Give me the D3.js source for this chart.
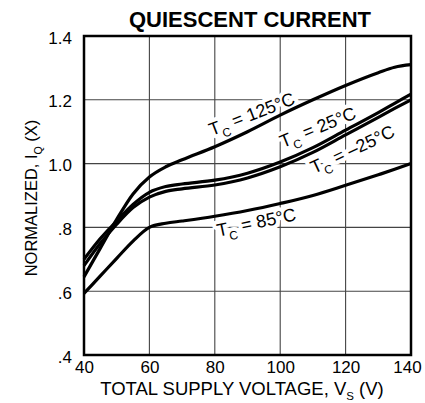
<!DOCTYPE html>
<html>
<head>
<meta charset="utf-8">
<script src="https://cdn.jsdelivr.net/npm/d3@7"></script>
<style>
  body { margin: 0; background: #fff; }
  svg { display: block; font-family: "Liberation Sans", Arial, Helvetica, sans-serif; }
</style>
</head>
<body>
<script>
// supply voltage points (V) and normalized quiescent current per case temperature
var volts = [40, 45, 50, 55, 60, 65, 70, 80, 90, 100, 110, 120, 130, 135, 140];
var i125  = [0.645, 0.735, 0.825, 0.905, 0.958, 0.99, 1.012, 1.053, 1.10, 1.152, 1.20, 1.245, 1.285, 1.302, 1.31];
var i25   = [0.70, 0.765, 0.82, 0.872, 0.91, 0.928, 0.936, 0.948, 0.97, 1.005, 1.05, 1.105, 1.16, 1.189, 1.218];
var iM25  = [0.68, 0.75, 0.81, 0.862, 0.895, 0.913, 0.921, 0.933, 0.955, 0.99, 1.035, 1.09, 1.145, 1.173, 1.20];
var i85   = [0.593, 0.648, 0.703, 0.757, 0.80, 0.813, 0.82, 0.835, 0.853, 0.875, 0.90, 0.932, 0.965, 0.982, 1.0];

var xTicks = [40, 60, 80, 100, 120, 140];
var yTicks = [0.4, 0.6, 0.8, 1.0, 1.2, 1.4];
var yTickLabels = [".4", ".6", ".8", "1.0", "1.2", "1.4"];

// curve labels: temperature text, anchor point in data units, angle
var labelTemps  = ["125°C", "25°C", "–25°C", "85°C"];
var labelVolts  = [92.0, 112.2, 122.9, 93.1];
var labelAmps   = [1.137, 1.096, 1.027, 0.797];
var labelAngles = [-21, -22, -25, -12];

var width = 425, height = 403;
var margin = {left: 84, right: 14, top: 36, bottom: 48};

var x = d3.scaleLinear().domain([40, 140]).range([margin.left, width - margin.right]);
var y = d3.scaleLinear().domain([0.4, 1.4]).range([height - margin.bottom, margin.top]);

var svg = d3.select("body").append("svg")
            .attr("width", width).attr("height", height);

// title
svg.append("text")
   .text("QUIESCENT CURRENT")
   .attr("x", 250).attr("y", 27)
   .attr("text-anchor", "middle")
   .attr("font-size", "22px")
   .attr("font-weight", "bold");

// grid
var grid = svg.append("g").attr("stroke", "#444").attr("stroke-width", 1.1);
grid.selectAll(".vgrid").data(xTicks).enter().append("line")
    .attr("x1", d => x(d)).attr("x2", d => x(d))
    .attr("y1", y(0.4)).attr("y2", y(1.4));
grid.selectAll(".hgrid").data(yTicks).enter().append("line")
    .attr("x1", x(40)).attr("x2", x(140))
    .attr("y1", d => y(d)).attr("y2", d => y(d));

// axes (labels only, frame drawn separately)
var xAxis = d3.axisBottom(x).tickValues(xTicks).tickSize(0).tickPadding(6);
var yAxis = d3.axisLeft(y).tickValues(yTicks).tickSize(0).tickPadding(12)
              .tickFormat((d, i) => yTickLabels[i]);

var gx = svg.append("g")
   .attr("transform", "translate(0," + y(0.4) + ")")
   .call(xAxis);
var gy = svg.append("g")
   .attr("transform", "translate(" + x(40) + ",0)")
   .call(yAxis);
[gx, gy].forEach(g => {
    g.select(".domain").remove();
    g.selectAll("text").attr("font-size", "17px").attr("fill", "#000")
     .attr("font-family", "'Liberation Sans', Arial, sans-serif");
});
gy.selectAll("text").attr("dy", "0.42em");
gx.selectAll("text").filter(d => d === 140).attr("dx", -4);

// axis titles
var xt = svg.append("text")
   .attr("x", 242).attr("y", 395)
   .attr("text-anchor", "middle")
   .attr("font-size", "18.5px");
xt.append("tspan").text("TOTAL SUPPLY VOLTAGE, V");
xt.append("tspan").text("S").attr("font-size", "11.5px").attr("dy", 5);
xt.append("tspan").text(" (V)").attr("dy", -5);

var yt = svg.append("text")
   .attr("transform", "translate(37,198) rotate(-90)")
   .attr("text-anchor", "middle")
   .attr("font-size", "16.5px");
yt.append("tspan").text("NORMALIZED, I");
yt.append("tspan").text("Q").attr("font-size", "10.5px").attr("dy", 5);
yt.append("tspan").text(" (X)").attr("dy", -5);

// curve labels with white halo to break the grid
var labels = svg.append("g").selectAll("text")
   .data(labelTemps).enter().append("text")
   .attr("transform", (d, i) => "translate(" + x(labelVolts[i]) + "," + y(labelAmps[i]) + ") rotate(" + labelAngles[i] + ")")
   .attr("text-anchor", "middle")
   .attr("font-size", "18px")
   .attr("stroke", "#fff").attr("stroke-width", 8)
   .attr("stroke-linejoin", "round")
   .attr("paint-order", "stroke")
   .attr("fill", "#000");
labels.append("tspan").text("T");
labels.append("tspan").text("C").attr("font-size", "12px").attr("dy", 6);
labels.append("tspan").text(d => " = " + d).attr("dy", -6);

// curves
var series = [i125, i25, iM25, i85];
var line = d3.line()
    .x((d, i) => x(volts[i]))
    .y(d => y(d))
    .curve(d3.curveMonotoneX);
svg.append("g").selectAll("path")
   .data(series).enter().append("path")
   .attr("d", line)
   .attr("fill", "none")
   .attr("stroke", "#000")
   .attr("stroke-width", 3.2)
   .attr("stroke-linejoin", "round");

// frame
svg.append("rect")
   .attr("x", x(40)).attr("y", y(1.4))
   .attr("width", x(140) - x(40)).attr("height", y(0.4) - y(1.4))
   .attr("fill", "none")
   .attr("stroke", "#000")
   .attr("stroke-width", 2.5);
</script>
</body>
</html>
